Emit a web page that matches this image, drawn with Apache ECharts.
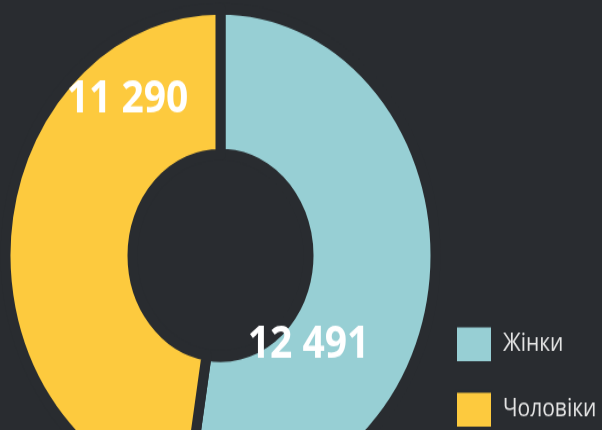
<!DOCTYPE html>
<html>
<head>
<meta charset="utf-8">
<script src="https://cdn.jsdelivr.net/npm/echarts@6/dist/echarts.min.js"></script>
<style>
  html, body { margin: 0; padding: 0; background: #292c30; overflow: hidden; }
  #wrap { width: 602px; height: 430px; overflow: hidden; }
  /* original donut is stretched vertically, so draw it squashed and scale up */
  #chart { width: 602px; height: 375px; transform: scaleY(1.1467); transform-origin: 0 0; }
</style>
</head>
<body>
<div id="wrap"><div id="chart"></div></div>
<script>
  const names = ['Жінки', 'Чоловіки'];
  const values = [12491, 11290];
  const colors = ['#97cfd4', '#fdca3e'];
  // label nudges from the default inside spot
  const labelOffsets = [[-66, 66], [61, -124]];

  const bg = '#292c30';
  const chart = echarts.init(document.getElementById('chart'));

  const fmt = v => String(v).replace(/\B(?=(\d{3})+(?!\d))/g, ' ');

  const option = {
    backgroundColor: bg,
    animation: false,
    color: colors,
    legend: {
      orient: 'vertical',
      left: 455,
      top: 283.5,
      padding: 0,
      itemWidth: 36,
      itemHeight: 31.4,
      itemGap: 23.6,
      icon: 'rect',
      textStyle: {
        color: '#e4e4e4',
        fontFamily: 'Open Sans',
        fontSize: 21,
        padding: [0, 0, 0, 6]
      },
      data: names
    },
    series: [
      {
        type: 'pie',
        center: [220.5, 222.7],
        radius: [88, 215],
        startAngle: 90,
        clockwise: true,
        itemStyle: {
          borderColor: bg,
          borderWidth: 10
        },
        emphasis: { disabled: true },
        label: {
          show: true,
          position: 'inside',
          color: '#ffffff',
          fontFamily: 'Open Sans',
          fontWeight: 'bold',
          fontSize: 39,
          formatter: p => fmt(p.value)
        },
        labelLine: { show: false },
        data: names.map((n, i) => ({
          name: n,
          value: values[i],
          label: { offset: labelOffsets[i] }
        }))
      }
    ]
  };
  chart.setOption(option);
</script>
</body>
</html>
